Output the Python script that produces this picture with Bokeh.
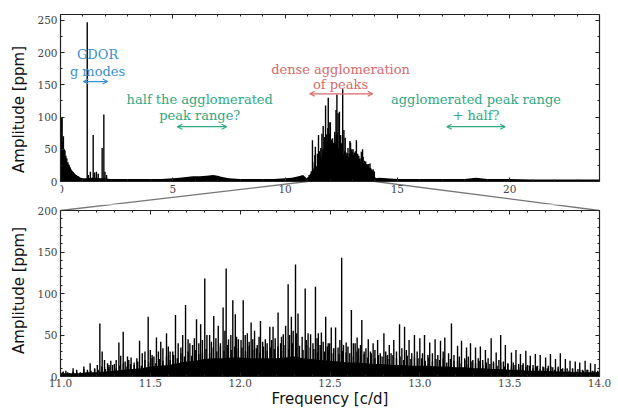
from bokeh.plotting import figure
from bokeh.models import (ColumnDataSource, Label, Arrow, OpenHead, LinearAxis,
                          SingleIntervalTicker, PrintfTickFormatter, Range1d)
from bokeh.layouts import column
from bokeh.embed import file_html
from bokeh.resources import INLINE

# ---------------- data ----------------
# broad noise floor of the amplitude spectrum below the p-mode cluster [c/d, ppm]
floor_low_f = [0.0, 0.1, 0.2, 0.3, 0.4, 0.5, 0.6, 0.7, 0.8, 0.9, 1.0, 1.2, 1.4, 1.6,
               1.8, 2.0, 2.2, 2.5, 3.0, 3.5, 4.0, 4.5, 5.0, 5.3, 5.6, 5.9, 6.2, 6.5,
               6.8, 7.0, 7.2, 7.5, 8.0, 8.5, 9.0, 9.5, 10.0, 10.3, 10.6, 10.8]
floor_low_a = [55, 45, 38, 30, 24, 18, 13, 10, 8, 6, 5, 5, 6, 6,
               5, 5, 4, 4, 4, 4, 4, 4, 5, 6, 7, 8, 8, 9,
               10, 9, 7, 5, 4, 4, 4, 4, 5, 6, 8, 10]

# residual power floor inside the p-mode cluster (11-14 c/d)
cluster_env_f = [11.00, 11.05, 11.10, 11.15, 11.20, 11.25, 11.30, 11.35, 11.40, 11.45,
                 11.50, 11.55, 11.60, 11.65, 11.70, 11.75, 11.80, 11.85, 11.90, 11.95,
                 12.00, 12.05, 12.10, 12.15, 12.20, 12.25, 12.30, 12.35, 12.40, 12.45,
                 12.50, 12.55, 12.60, 12.65, 12.70, 12.75, 12.80, 12.85, 12.90, 12.95,
                 13.00, 13.05, 13.10, 13.15, 13.20, 13.25, 13.30, 13.35, 13.40, 13.45,
                 13.50, 13.55, 13.60, 13.65, 13.70, 13.75, 13.80, 13.85, 13.90, 13.95, 14.00]
cluster_env_a = [4, 4, 4, 5, 5, 6, 7, 8, 9, 10,
                 12, 13, 14, 16, 18, 19, 21, 22, 22, 23,
                 23, 22, 22, 22, 22, 23, 24, 22, 21, 20,
                 19, 18, 17, 17, 16, 15, 15, 14, 14, 13,
                 13, 13, 12, 12, 11, 11, 10, 10, 9, 9,
                 8, 8, 7, 7, 7, 6, 6, 5, 5, 5, 5]

# noise floor above the cluster
floor_high_f = [14.2, 14.5, 15.0, 16.0, 17.0, 18.0, 18.5, 19.0, 20.0, 21.0, 22.0, 23.0, 24.0]
floor_high_a = [6, 5, 4, 4, 4, 4, 6, 4, 4, 3, 3, 3, 3]

# low-frequency signal near 0 c/d
lowf_f = [0.02, 0.045, 0.07, 0.10, 0.13, 0.17, 0.20, 0.24, 0.28, 0.33, 0.38, 0.42,
          0.48, 0.55, 0.62, 0.70, 0.78]
lowf_a = [66, 100, 98, 62, 70, 50, 48, 40, 36, 30, 26, 22,
          18, 15, 12, 10, 8]

# gamma Doradus g modes
gdor_f = [1.19, 1.24, 1.33, 1.455, 1.52, 1.60, 1.68, 1.855, 1.93, 1.98, 2.05]
gdor_a = [247, 10, 15, 72, 14, 15, 12, 52, 104, 15, 10]

# resolved peaks of the delta Scuti cluster
peak_f = [11.219, 11.232, 11.262, 11.280, 11.325, 11.349, 11.373, 11.393, 11.440, 11.488,
          11.510, 11.534, 11.558, 11.590, 11.610, 11.640, 11.680, 11.696, 11.720, 11.757,
          11.780, 11.803, 11.830, 11.853, 11.878, 11.905, 11.922, 11.959, 11.973, 11.990,
          12.017, 12.040, 12.061, 12.080, 12.113, 12.140, 12.165, 12.183, 12.211, 12.240,
          12.253, 12.267, 12.285, 12.308, 12.322, 12.362, 12.378, 12.392, 12.419, 12.435,
          12.452, 12.476, 12.490, 12.507, 12.531, 12.545, 12.565, 12.590, 12.619, 12.640,
          12.651, 12.677, 12.713, 12.740, 12.765, 12.800, 12.830, 12.855, 12.887, 12.915,
          12.940, 12.970, 13.000, 13.026, 13.055, 13.085, 13.115, 13.139, 13.176, 13.210,
          13.232, 13.260, 13.282, 13.310, 13.337, 13.365, 13.397, 13.425, 13.450, 13.476,
          13.510, 13.535, 13.560, 13.590, 13.615, 13.643, 13.670, 13.700, 13.727, 13.755,
          13.782, 13.810, 13.836, 13.865, 13.890, 13.920, 13.950, 13.975]
peak_a = [64, 30, 16, 19, 41, 54, 24, 23, 43, 72,
          26, 47, 42, 52, 30, 74, 50, 86, 40, 69,
          63, 118, 50, 73, 61, 83, 130, 92, 75, 45,
          92, 52, 65, 55, 67, 45, 60, 60, 77, 51,
          61, 111, 72, 135, 76, 106, 52, 51, 108, 52,
          53, 72, 40, 59, 59, 35, 143, 41, 80, 40,
          47, 68, 45, 40, 44, 52, 38, 44, 63, 60,
          44, 50, 46, 50, 41, 45, 43, 47, 64, 37,
          43, 35, 40, 35, 36, 32, 46, 29, 50, 38,
          29, 32, 27, 31, 25, 27, 26, 23, 27, 21,
          28, 21, 19, 18, 17, 19, 16, 15]

# weaker peaks and side lobes filling the cluster
minor_f = [11.015, 11.040, 11.070, 11.090, 11.130, 11.150, 11.165, 11.190, 11.205, 11.245,
           11.270, 11.300, 11.310, 11.335, 11.360, 11.380, 11.410, 11.425, 11.455, 11.470,
           11.500, 11.520, 11.545, 11.570, 11.600, 11.625, 11.655, 11.670, 11.710, 11.735,
           11.745, 11.770, 11.790, 11.815, 11.840, 11.865, 11.890, 11.915, 11.935, 11.948,
           11.980, 12.005, 12.028, 12.050, 12.070, 12.095, 12.105, 12.125, 12.150, 12.175,
           12.195, 12.225, 12.230, 12.275, 12.295, 12.315, 12.345, 12.368, 12.405, 12.428,
           12.445, 12.462, 12.485, 12.498, 12.520, 12.555, 12.575, 12.600, 12.630, 12.660,
           12.670, 12.690, 12.700, 12.725, 12.750, 12.780, 12.810, 12.820, 12.840, 12.870,
           12.900, 12.925, 12.955, 12.985, 13.015, 13.045, 13.070, 13.100, 13.130, 13.160,
           13.190, 13.220, 13.250, 13.270, 13.295, 13.325, 13.350, 13.380, 13.410, 13.440,
           13.465, 13.490, 13.520, 13.550, 13.575, 13.600, 13.630, 13.655, 13.685, 13.715,
           13.740, 13.770, 13.795, 13.820, 13.850, 13.880, 13.905, 13.935, 13.960, 13.990]
minor_a = [6, 5, 10, 6, 12, 8, 16, 9, 14, 20,
           14, 15, 20, 25, 18, 20, 17, 22, 28, 30,
           32, 24, 30, 34, 36, 30, 40, 35, 45, 38,
           46, 40, 44, 50, 42, 46, 40, 55, 45, 50,
           48, 44, 50, 42, 45, 38, 48, 42, 40, 44,
           46, 40, 48, 50, 55, 52, 48, 44, 40, 46,
           38, 42, 36, 40, 34, 44, 38, 36, 40, 34,
           38, 30, 34, 30, 32, 28, 30, 26, 28, 30,
           34, 32, 28, 30, 28, 26, 28, 26, 30, 28,
           26, 24, 22, 24, 20, 22, 20, 22, 18, 20,
           18, 16, 17, 15, 16, 14, 14, 13, 12, 13,
           11, 12, 10, 10, 9, 9, 8, 8, 7, 7]

# unresolved low-level power between the peaks
fine_f = [11.01, 11.03, 11.05, 11.07, 11.09, 11.11, 11.13, 11.15, 11.17, 11.19,
          11.21, 11.23, 11.25, 11.27, 11.29, 11.31, 11.33, 11.35, 11.37, 11.39,
          11.41, 11.43, 11.45, 11.47, 11.49, 11.51, 11.53, 11.55, 11.57, 11.59,
          11.61, 11.63, 11.65, 11.67, 11.69, 11.71, 11.73, 11.75, 11.77, 11.79,
          11.81, 11.83, 11.85, 11.87, 11.89, 11.91, 11.93, 11.95, 11.97, 11.99,
          12.01, 12.03, 12.05, 12.07, 12.09, 12.11, 12.13, 12.15, 12.17, 12.19,
          12.21, 12.23, 12.25, 12.27, 12.29, 12.31, 12.33, 12.35, 12.37, 12.39,
          12.41, 12.43, 12.45, 12.47, 12.49, 12.51, 12.53, 12.55, 12.57, 12.59,
          12.61, 12.63, 12.65, 12.67, 12.69, 12.71, 12.73, 12.75, 12.77, 12.79,
          12.81, 12.83, 12.85, 12.87, 12.89, 12.91, 12.93, 12.95, 12.97, 12.99,
          13.01, 13.03, 13.05, 13.07, 13.09, 13.11, 13.13, 13.15, 13.17, 13.19,
          13.21, 13.23, 13.25, 13.27, 13.29, 13.31, 13.33, 13.35, 13.37, 13.39,
          13.41, 13.43, 13.45, 13.47, 13.49, 13.51, 13.53, 13.55, 13.57, 13.59,
          13.61, 13.63, 13.65, 13.67, 13.69, 13.71, 13.73, 13.75, 13.77, 13.79,
          13.81, 13.83, 13.85, 13.87, 13.89, 13.91, 13.93, 13.95, 13.97, 13.99]
fine_a = [5, 7, 4, 6, 8, 5, 9, 6, 7, 10,
          8, 12, 9, 11, 14, 10, 13, 16, 12, 15,
          14, 18, 13, 20, 17, 22, 16, 21, 19, 24,
          20, 26, 22, 28, 24, 30, 25, 32, 27, 29,
          33, 28, 35, 30, 36, 31, 38, 32, 36, 34,
          35, 30, 37, 32, 34, 29, 36, 31, 35, 33,
          36, 31, 38, 33, 40, 34, 37, 32, 38, 35,
          33, 29, 35, 30, 32, 28, 34, 27, 31, 29,
          28, 24, 30, 25, 27, 23, 28, 22, 26, 24,
          25, 21, 26, 22, 24, 20, 25, 21, 23, 22,
          22, 19, 23, 18, 21, 20, 22, 17, 21, 19,
          19, 16, 20, 15, 18, 16, 19, 14, 17, 15,
          16, 13, 17, 12, 15, 13, 14, 11, 14, 12,
          13, 10, 12, 9, 11, 10, 12, 8, 10, 9,
          9, 7, 10, 6, 8, 7, 8, 6, 7, 6]

# ---------------- layout constants ----------------
W = 618
LEFT, RIGHT = 60, 19
TOP_RANGE = (0, 24)
TOP_YMAX = 259
ZOOM = (11, 14)
BOT_YMAX = 200
TOP_PANEL_T, TOP_PANEL_H = 14, 167     # top panel box: y pixels
BOT_PANEL_H, BOT_BORDER_B = 166, 36    # zoom panel box height, space for x labels
GAP_PX = 29                            # vertical gap between the two panel boxes
SPLIT = 23                             # where the two canvases meet inside the gap

SERIF = "DejaVu Serif"
SANS = "DejaVu Sans"
INK = "#222222"
BLUE, RED, GREEN = "#3a8fd0", "#d66a6a", "#2fa882"

top_px = TOP_PANEL_H / TOP_YMAX        # pixels per ppm, full spectrum
bot_px = BOT_PANEL_H / BOT_YMAX        # pixels per ppm, zoom panel


def dress(p, x_int, x_minor, y_int, y_minor, y_bounds, x_loc=None, top_loc=None,
          x_fmt=None, xlabel=None):
    p.xgrid.visible = False
    p.ygrid.visible = False
    p.outline_line_color = None
    p.background_fill_color = "white"
    p.border_fill_color = "white"
    below = p.below[0]
    left = p.left[0]
    below.ticker = SingleIntervalTicker(interval=x_int, num_minor_ticks=x_minor)
    left.ticker = SingleIntervalTicker(interval=y_int, num_minor_ticks=y_minor)
    if x_loc is not None:
        below.fixed_location = x_loc
    if x_fmt:
        below.formatter = PrintfTickFormatter(format=x_fmt)
    above = LinearAxis(ticker=SingleIntervalTicker(interval=x_int, num_minor_ticks=x_minor))
    if top_loc is not None:
        above.fixed_location = top_loc
    right = LinearAxis(ticker=SingleIntervalTicker(interval=y_int, num_minor_ticks=y_minor))
    p.add_layout(above, "above")
    p.add_layout(right, "right")
    left.bounds = y_bounds
    right.bounds = y_bounds
    for ax in (below, left, above, right):
        ax.axis_line_color = INK
        ax.axis_line_width = 1.2
        ax.major_tick_in = 4
        ax.major_tick_out = 0
        ax.minor_tick_in = 2
        ax.minor_tick_out = 0
        ax.major_tick_line_color = INK
        ax.minor_tick_line_color = INK
        ax.major_label_text_font = SERIF
        ax.major_label_text_font_size = "10.5px"
        ax.major_label_text_color = "#444444"
        ax.major_label_standoff = 3
        ax.axis_label_text_font = SANS
        ax.axis_label_text_font_style = "normal"
        ax.axis_label_text_font_size = "15px"
        ax.axis_label_text_color = "#111111"
        ax.axis_label_standoff = 6
    for ax in (above, right):
        ax.major_label_text_font_size = "0px"
        ax.major_label_standoff = 0
        ax.major_label_text_alpha = 0
    left.axis_label = "Amplitude [ppm]"
    if xlabel:
        below.axis_label = xlabel
        below.axis_label_standoff = 0
        below.major_label_standoff = 2


def spectrum(p, floor_f, floor_a, width):
    p.varea(x=floor_f, y1=0, y2=floor_a, fill_color="black")
    for f, a in ((lowf_f, lowf_a), (gdor_f, gdor_a), (fine_f, fine_a),
                 (minor_f, minor_a), (peak_f, peak_a)):
        src = ColumnDataSource(dict(f=f, a=a))
        p.segment(x0="f", y0=0, x1="f", y1="a", source=src,
                  line_color="black", line_width=width)


def note(p, x, y_lines, lines, color):
    for yl, txt in zip(y_lines, lines):
        p.add_layout(Label(x=x, y=yl, text=txt, text_align="center", text_baseline="middle",
                           text_font=SERIF, text_font_size="13px", text_color=color))


def span_arrow(p, x0, x1, y, color):
    p.add_layout(Arrow(x_start=x0, y_start=y, x_end=x1, y_end=y,
                       start=OpenHead(size=5, line_color=color, line_width=1.2),
                       end=OpenHead(size=5, line_color=color, line_width=1.2),
                       line_color=color, line_width=1.2))


# ---------------- full spectrum ----------------
# its frame runs on below the x axis (fixed at 0) into the gap, where the zoom
# connectors start
top_low = -SPLIT / top_px
top = figure(width=W, height=TOP_PANEL_T + TOP_PANEL_H + SPLIT,
             x_range=Range1d(*TOP_RANGE), y_range=Range1d(top_low, TOP_YMAX),
             output_backend="svg", toolbar_location=None,
             min_border_left=LEFT, min_border_right=RIGHT,
             min_border_top=TOP_PANEL_T, min_border_bottom=0)
dress(top, 5, 5, 50, 2, (0, TOP_YMAX), x_loc=0)
spectrum(top, floor_low_f + cluster_env_f + floor_high_f,
         floor_low_a + cluster_env_a + floor_high_a, 1.4)

note(top, 1.65, [197, 170], ["GDOR", "g modes"], BLUE)
span_arrow(top, 1.02, 2.1, 155, BLUE)
note(top, 6.2, [127, 102], ["half the agglomerated", "peak range?"], GREEN)
span_arrow(top, 5.2, 7.4, 85, GREEN)
note(top, 12.47, [174, 150], ["dense agglomeration", "of peaks"], RED)
span_arrow(top, 11.1, 13.9, 136, RED)
note(top, 18.5, [127, 102], ["agglomerated peak range", "+ half?"], GREEN)
span_arrow(top, 17.2, 19.8, 85, GREEN)

# ---------------- zoom on the cluster ----------------
bot_high = BOT_YMAX + (GAP_PX - SPLIT) / bot_px
bot = figure(width=W, height=(GAP_PX - SPLIT) + BOT_PANEL_H + BOT_BORDER_B,
             x_range=Range1d(*ZOOM), y_range=Range1d(0, bot_high),
             output_backend="svg", toolbar_location=None,
             min_border_left=LEFT, min_border_right=RIGHT,
             min_border_top=0, min_border_bottom=BOT_BORDER_B)
dress(bot, 0.5, 5, 50, 5, (0, BOT_YMAX), top_loc=BOT_YMAX, x_fmt="%.1f",
      xlabel="Frequency [c/d]")
spectrum(bot, cluster_env_f, cluster_env_a, 1.4)

# connector lines: zoom window on the full spectrum -> corners of the zoom panel
top_w = TOP_RANGE[1] - TOP_RANGE[0]
bot_w = ZOOM[1] - ZOOM[0]
corner_top = -GAP_PX / top_px                     # zoom-panel top edge, full-spectrum units
win_bot = BOT_YMAX + GAP_PX / bot_px              # full-spectrum x axis, zoom-panel units
top.segment(x0=list(ZOOM), y0=[0, 0], x1=list(TOP_RANGE), y1=[corner_top, corner_top],
            line_color="#777777", line_width=1.3)
bot.segment(x0=list(ZOOM), y0=[BOT_YMAX, BOT_YMAX],
            x1=[ZOOM[0] + (z - TOP_RANGE[0]) * bot_w / top_w for z in ZOOM],
            y1=[win_bot, win_bot], line_color="#777777", line_width=1.3)

layout = column(top, bot, spacing=0)
open("out.html", "w").write(file_html(layout, INLINE))
